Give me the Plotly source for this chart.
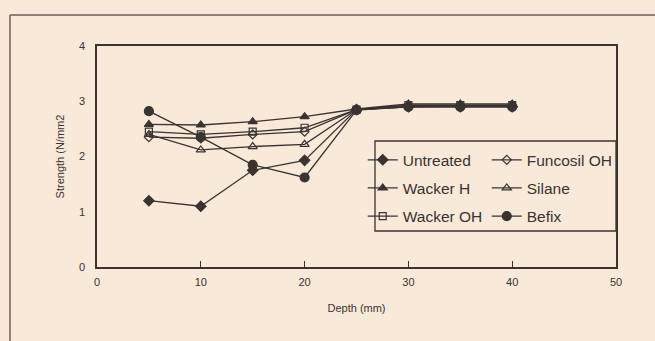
import plotly.graph_objects as go

depth = [5, 10, 15, 20, 25, 30, 35, 40]
untreated = [1.20, 1.10, 1.75, 1.93, 2.85, 2.90, 2.90, 2.90]
funcosil_oh = [2.35, 2.33, 2.40, 2.45, 2.85, 2.90, 2.91, 2.91]
wacker_h = [2.58, 2.57, 2.63, 2.72, 2.86, 2.95, 2.95, 2.95]
silane = [2.40, 2.12, 2.18, 2.22, 2.85, 2.92, 2.92, 2.92]
wacker_oh = [2.45, 2.40, 2.45, 2.52, 2.85, 2.93, 2.93, 2.93]
befix = [2.82, 2.35, 1.85, 1.62, 2.84, 2.90, 2.90, 2.90]

series = [
    ("Untreated", untreated, "diamond", 8, "legend"),
    ("Wacker H", wacker_h, "triangle-up", 8, "legend"),
    ("Wacker OH", wacker_oh, "square-open", 7, "legend"),
    ("Funcosil OH", funcosil_oh, "diamond-open", 7, "legend2"),
    ("Silane", silane, "triangle-up-open", 8, "legend2"),
    ("Befix", befix, "circle", 9, "legend2"),
]

ink = "#3a3330"
bg = "#f8e9d9"

fig = go.Figure()
for name, vals, sym, sz, lg in series:
    fig.add_trace(go.Scatter(
        x=depth, y=vals, name=name, mode="lines+markers",
        legend=lg, legendgroup=name,
        line=dict(color=ink, width=1.3),
        marker=dict(symbol=sym, size=sz, color=ink,
                    line=dict(color=ink, width=1.2)),
    ))

leg_common = dict(
    orientation="v", yanchor="top", xanchor="left",
    bgcolor="rgba(0,0,0,0)", borderwidth=0,
    font=dict(size=15.5, color=ink), tracegroupgap=5, itemwidth=30,
)

fig.update_layout(
    width=655, height=341,
    margin=dict(l=97, r=39, t=46, b=74),
    paper_bgcolor=bg, plot_bgcolor=bg,
    font=dict(family="Liberation Sans, Arial, sans-serif", size=11, color=ink),
    showlegend=True,
    legend=dict(x=0.512, y=0.56, **leg_common),
    legend2=dict(x=0.751, y=0.56, **leg_common),
    xaxis=dict(
        range=[0, 50], tickvals=[0, 10, 20, 30, 40, 50],
        ticks="inside", ticklen=6, tickcolor=ink, ticklabelstandoff=4,
        showline=True, linecolor=ink, linewidth=1.5, mirror=True,
        showgrid=False, zeroline=False,
        title=dict(text="Depth (mm)", font=dict(size=11), standoff=17),
    ),
    yaxis=dict(
        range=[0, 4], tickvals=[0, 1, 2, 3, 4],
        ticks="", ticklabelstandoff=8,
        showline=True, linecolor=ink, linewidth=1.5, mirror=True,
        showgrid=False, zeroline=False,
        title=dict(text="Strength (N/mm2", font=dict(size=11), standoff=12),
    ),
)

# legend frame (runs to the right edge of the plot area)
fig.add_shape(type="rect", xref="paper", yref="paper",
              x0=(375 - 97) / 519, x1=1.0,
              y0=(267 - 231) / 221, y1=(267 - 141) / 221,
              line=dict(color=ink, width=1.3), fillcolor=bg, layer="above")

# outer frame of the scanned figure (top and left edges)
fig.add_shape(type="line", xref="paper", yref="paper",
              x0=-0.1676, x1=1.08, y0=1.14, y1=1.14,
              line=dict(color="#6a6058", width=1.5))
fig.add_shape(type="line", xref="paper", yref="paper",
              x0=-0.1676, x1=-0.1676, y0=1.14, y1=-0.34,
              line=dict(color="#6a6058", width=1.5))

fig.write_html("out.html")
